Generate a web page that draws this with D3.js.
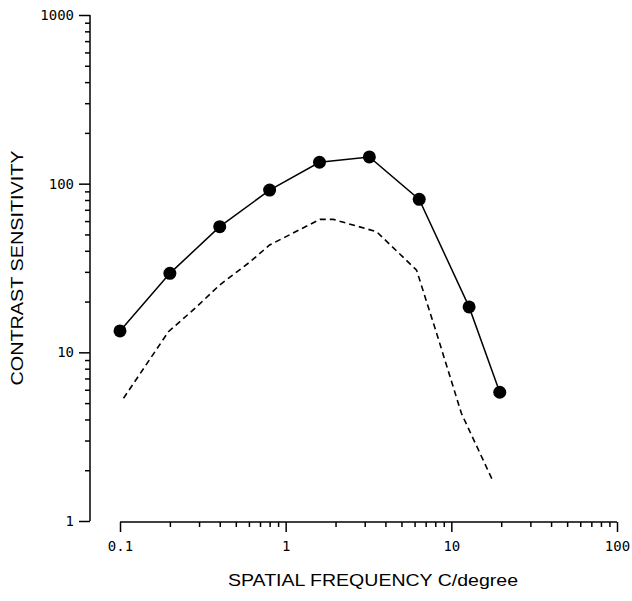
<!DOCTYPE html>
<html>
<head>
<meta charset="utf-8">
<script src="https://cdn.jsdelivr.net/npm/d3@7/dist/d3.min.js"></script>
<style>
  html, body { margin: 0; padding: 0; background: #fff; }
  svg { display: block; }
</style>
</head>
<body>
<svg id="chart" width="632" height="601"></svg>
<script>
// Measured contrast sensitivity (filled circles)
const measuredFreq = [0.1, 0.2, 0.4, 0.8, 1.6, 3.2, 6.4, 12.8, 19.6];
const measuredSens = [13.4, 29.4, 55.6, 91.6, 134, 144, 80.7, 18.6, 5.8];

// Comparison curve (dashed)
const curveFreq = [0.105, 0.196, 0.29, 0.40, 0.61, 0.80, 1.61, 1.94, 3.54, 6.17, 8.15, 11.5, 17.9];
const curveSens = [5.34, 13.25, 18.6, 25.1, 34.4, 43.3, 61.4, 61.4, 51.9, 30.7, 12.97, 4.35, 1.71];

// Axis tick labels (decades)
const xTickLabels = [0.1, 1, 10, 100];
const yTickLabels = [1, 10, 100, 1000];

const xTitle = "SPATIAL FREQUENCY C/degree";
const yTitle = "CONTRAST SENSITIVITY";

const svg = d3.select("#chart");

const x = d3.scaleLog().domain([0.1, 100]).range([120, 617]);
const y = d3.scaleLog().domain([1, 1000]).range([521, 15]);

const isDecade = v => Math.abs(Math.log10(v) - Math.round(Math.log10(v))) < 1e-9;
const fmt = v => (v < 1 ? "0.1" : String(v));

// Y axis with all log ticks, longer at the decades
const yAxis = d3.axisLeft(y)
  .tickValues(y.ticks())
  .tickSize(5)
  .tickPadding(6)
  .tickFormat(d => (yTickLabels.includes(d) ? fmt(d) : ""));

const gy = svg.append("g").attr("transform", "translate(90,0)").call(yAxis);
gy.select(".domain").attr("d", `M0,${y(1000)}V${y(1)}`).attr("stroke-width", 1.5);
gy.selectAll(".tick line").attr("stroke-width", 1.5)
  .attr("x2", d => (isDecade(d) ? -11 : -5));
gy.selectAll(".tick text").attr("x", -16);

// X axis, ticks pointing down
const xAxis = d3.axisBottom(x)
  .tickValues(x.ticks())
  .tickSize(5)
  .tickFormat(d => (xTickLabels.includes(d) ? fmt(d) : ""));

const gx = svg.append("g").attr("transform", "translate(0,522)").call(xAxis);
gx.select(".domain").attr("d", `M${x(0.1)},0H${x(100)}`).attr("stroke-width", 1.5);
gx.selectAll(".tick line").attr("stroke-width", 1.5)
  .attr("y2", d => (isDecade(d) ? 10 : 5));
gx.selectAll(".tick text").attr("y", 19);

svg.selectAll(".tick text")
  .attr("font-family", "'DejaVu Sans Mono', monospace")
  .attr("font-size", 14)
  .attr("fill", "#000");
svg.selectAll(".domain, .tick line").attr("stroke", "#000");

// Dashed comparison curve
const curve = curveFreq.map((f, i) => [f, curveSens[i]]);
svg.append("path")
  .datum(curve)
  .attr("fill", "none")
  .attr("stroke", "#000")
  .attr("stroke-width", 1.6)
  .attr("stroke-dasharray", "6,4")
  .attr("d", d3.line().x(d => x(d[0])).y(d => y(d[1])));

// Measured data: line and markers
const measured = measuredFreq.map((f, i) => [f, measuredSens[i]]);
svg.append("path")
  .datum(measured)
  .attr("fill", "none")
  .attr("stroke", "#000")
  .attr("stroke-width", 1.5)
  .attr("d", d3.line().x(d => x(d[0])).y(d => y(d[1])));

svg.append("g").selectAll("circle")
  .data(measured)
  .join("circle")
  .attr("cx", d => x(d[0]))
  .attr("cy", d => y(d[1]))
  .attr("r", 6.5)
  .attr("fill", "#000");

// Axis titles
svg.append("text")
  .attr("x", 373)
  .attr("y", 586)
  .attr("text-anchor", "middle")
  .attr("font-family", "'Liberation Sans', Arial, sans-serif")
  .attr("font-size", 16.5)
  .attr("textLength", 290)
  .attr("lengthAdjust", "spacingAndGlyphs")
  .attr("fill", "#000")
  .text(xTitle);

svg.append("text")
  .attr("transform", "translate(23,268) rotate(-90)")
  .attr("text-anchor", "middle")
  .attr("font-family", "'Liberation Sans', Arial, sans-serif")
  .attr("font-size", 16.5)
  .attr("textLength", 235)
  .attr("lengthAdjust", "spacingAndGlyphs")
  .attr("fill", "#000")
  .text(yTitle);
</script>
</body>
</html>
